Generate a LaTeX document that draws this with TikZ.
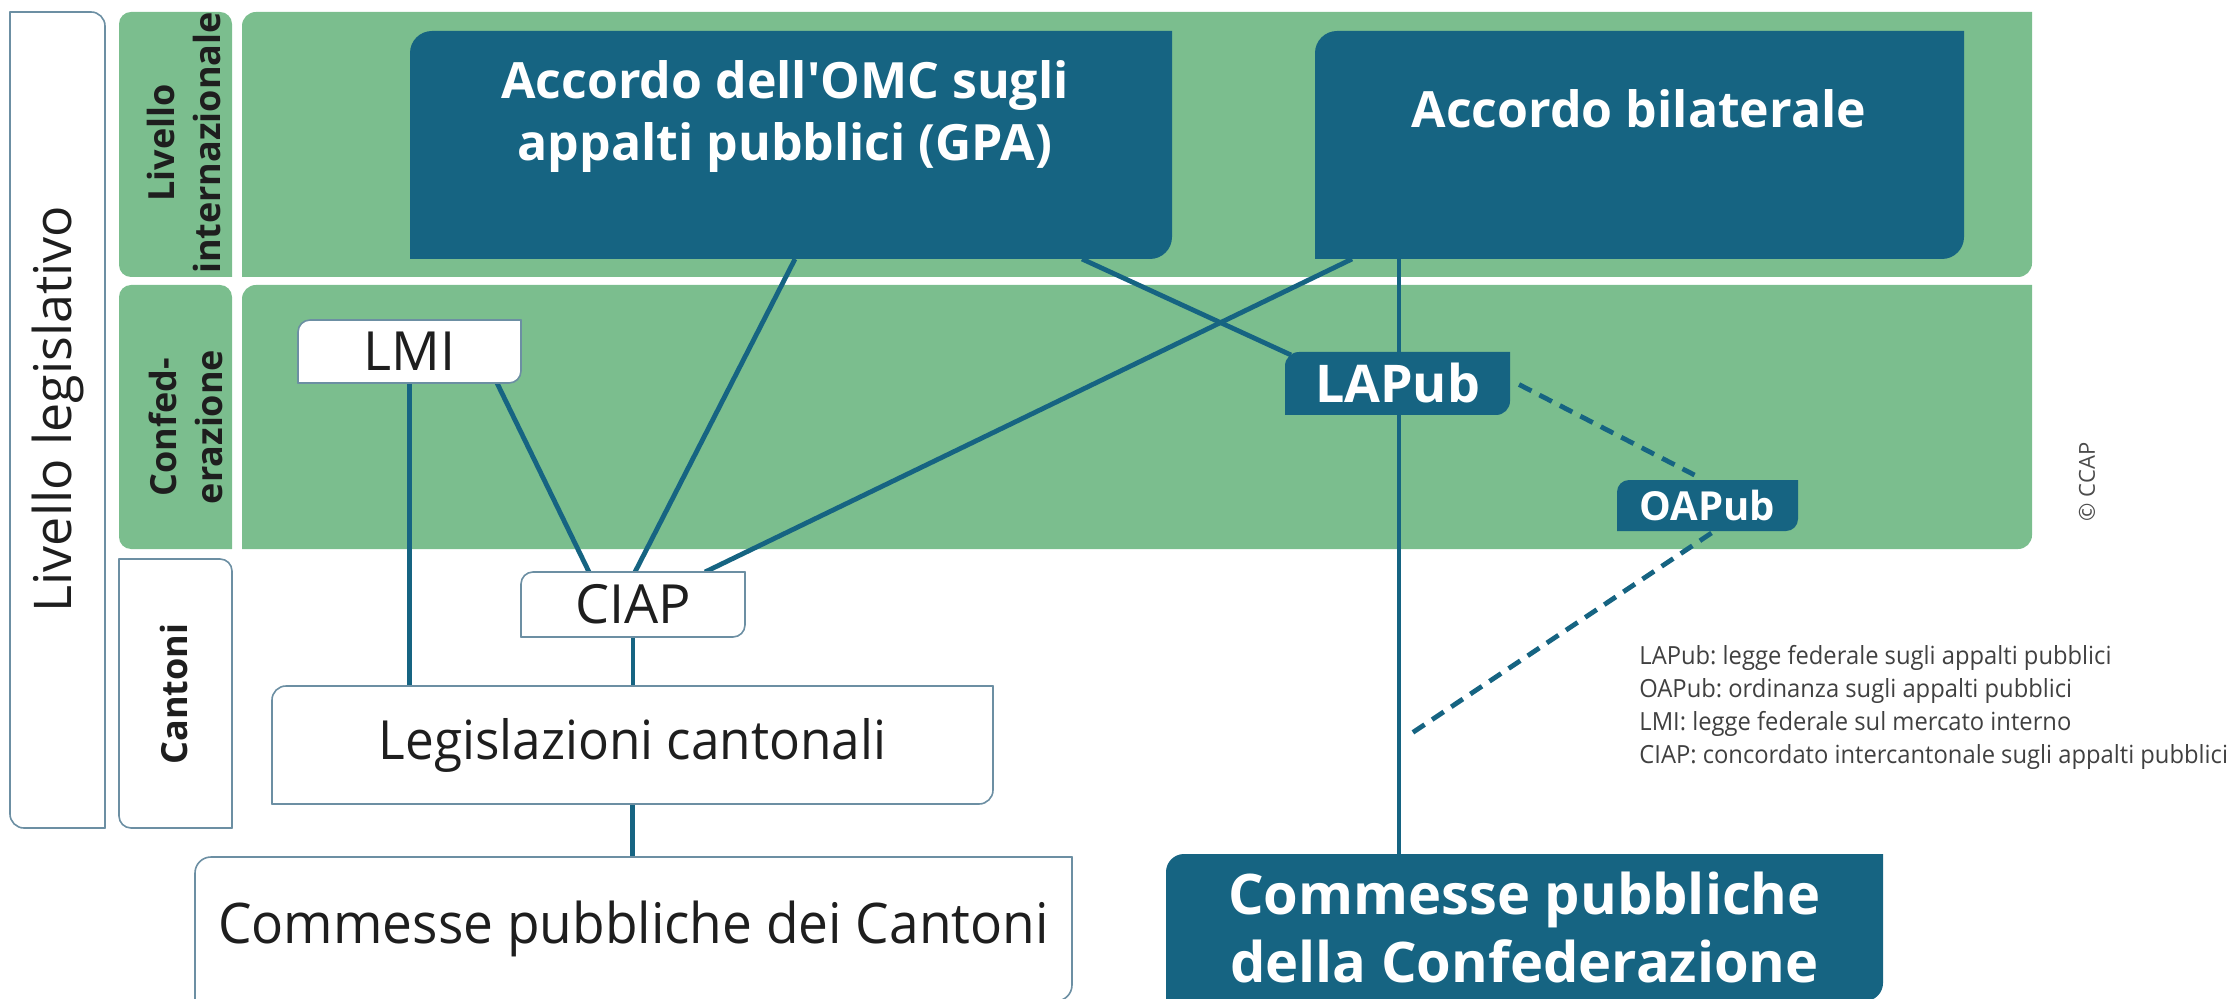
\documentclass[tikz,border=0pt]{standalone}
\usepackage{fontspec}
\setmainfont{Open Sans}
\newfontfamily\plainfont{Open Sans}
\newfontfamily\condfont{Open Sans}[FakeStretch=0.95]
\newfontfamily\legfont{Open Sans}[FakeStretch=0.95]
\frenchspacing
\usetikzlibrary{calc}
\definecolor{pgreen}{HTML}{7BBE8E}
\definecolor{dteal}{HTML}{166482}
\definecolor{bline}{HTML}{6C8FA3}
\definecolor{txtdark}{HTML}{1E1E1E}
\pgfdeclarelayer{bg}
\pgfdeclarelayer{lines}
\pgfdeclarelayer{boxes}
\pgfsetlayers{bg,lines,boxes,main}
% #1 node, #2 tl, #3 tr, #4 br, #5 bl radii, #6 style
\newcommand\rshape[6]{%
  \path[#6] ([yshift=-#2]#1.north west) arc[start angle=180,end angle=90,radius=#2]
    -- ([xshift=-#3]#1.north east) arc[start angle=90,end angle=0,radius=#3]
    -- ([yshift=#4]#1.south east) arc[start angle=0,end angle=-90,radius=#4]
    -- ([xshift=#5]#1.south west) arc[start angle=270,end angle=180,radius=#5]
    -- cycle;}
\tikzset{
  area/.style={draw=none,fill=none,inner sep=0pt,outer sep=0pt},
  darkfill/.style={fill=dteal},
  whitefill/.style={fill=white,draw=bline,line width=0.8pt},
  greenfill/.style={fill=pgreen},
  bigtxt/.style={inner sep=0pt,text=white,align=center,font=\plainfont\bfseries\fontsize{25pt}{31pt}\selectfont},
  conftxt/.style={text=white,align=center,font=\bfseries\fontsize{28pt}{34pt}\selectfont},
  labtxt/.style={text=txtdark,align=center,inner sep=0pt,font=\bfseries\fontsize{18pt}{23pt}\selectfont},
  conn/.style={draw=dteal,line width=2.4pt},
  dconn/.style={conn,dash pattern=on 7pt off 4.5pt},
}
\begin{document}
\begin{tikzpicture}[x=0.5pt,y=-0.5pt]
\useasboundingbox (0,0) rectangle (2230,999);
% ---------- areas ----------
\node[area,minimum width=47.5pt,minimum height=408pt] (outer) at (57.5,420) {};
\node[area,minimum width=56.5pt,minimum height=132.5pt] (cell1) at (175.5,144.5) {};
\node[area,minimum width=56.5pt,minimum height=132pt] (cell2) at (175.5,417) {};
\node[area,minimum width=56.5pt,minimum height=134.5pt] (cell3) at (175.5,693.5) {};
\node[area,minimum width=895pt,minimum height=132.5pt] (panel1) at (1137,144.5) {};
\node[area,minimum width=895pt,minimum height=132pt] (panel2) at (1137,417) {};
\begin{pgfonlayer}{bg}
  \rshape{outer}{0.01pt}{7pt}{0.01pt}{7pt}{whitefill}
  \rshape{cell1}{6pt}{6pt}{0.01pt}{6pt}{greenfill}
  \rshape{cell2}{6pt}{6pt}{0.01pt}{6pt}{greenfill}
  \rshape{cell3}{0.01pt}{6pt}{0.01pt}{6pt}{whitefill}
  \rshape{panel1}{7pt}{0.01pt}{7pt}{0.01pt}{greenfill}
  \rshape{panel2}{7pt}{0.01pt}{7pt}{0.01pt}{greenfill}
\end{pgfonlayer}
% ---------- side labels ----------
\node[rotate=90,inner sep=0pt,text=txtdark,font=\fontsize{26pt}{30pt}\selectfont] (lleg) at (58,409) {Livello legislativo};
\node[labtxt,rotate=90] (lint) at (184,143) {Livello\\internazionale};
\node[labtxt,rotate=90] (lconf) at (186,427) {Confed-\\erazione};
\node[labtxt,rotate=90] (lcant) at (174,694) {Cantoni};
% ---------- boxes ----------
\node[area,minimum width=381pt,minimum height=114pt] (gpa) at (791,145) {};
\node[bigtxt,anchor=north] (gpatxt) at (785,60) {Accordo dell'OMC sugli\\appalti pubblici (GPA)};
\node[area,minimum width=324.5pt,minimum height=114pt] (bil) at (1639.5,145) {};
\node[bigtxt,anchor=north] (biltxt) at (1639,89) {Accordo bilaterale};
\node[area,minimum width=111.5pt,minimum height=31.5pt,text=txtdark,font=\fontsize{27pt}{30pt}\selectfont] (lmi) at (409.5,351.5) {LMI};
\node[area,minimum width=112.5pt,minimum height=31.5pt,text=white,font=\bfseries\fontsize{26pt}{30pt}\selectfont] (lapub) at (1397.5,383.5) {LAPub};
\node[area,minimum width=90.5pt,minimum height=25.5pt,text=white,font=\bfseries\fontsize{20pt}{24pt}\selectfont] (oapub) at (1707.5,505.5) {OAPub};
\node[area,minimum width=112pt,minimum height=32.5pt,text=txtdark,font=\fontsize{27pt}{30pt}\selectfont] (ciap) at (633,604.5) {CIAP};
\node[area,minimum width=360.5pt,minimum height=59pt,text=txtdark,font=\condfont\fontsize{27pt}{30pt}\selectfont] (legis) at (632.5,745) {Legislazioni cantonali};
\node[area,minimum width=438.5pt,minimum height=72pt,text=txtdark,font=\condfont\fontsize{28pt}{30pt}\selectfont] (comcant) at (633.5,929) {Commesse pubbliche dei Cantoni};
\node[area,conftxt,minimum width=358.5pt,minimum height=73.5pt] (comconf) at (1524.5,927.5) {Commesse pubbliche\\della Confederazione};
\begin{pgfonlayer}{boxes}
  \rshape{gpa}{11pt}{0.01pt}{11pt}{0.01pt}{darkfill}
  \rshape{bil}{11pt}{0.01pt}{11pt}{0.01pt}{darkfill}
  \rshape{lmi}{6pt}{0.01pt}{6pt}{0.01pt}{whitefill}
  \rshape{lapub}{7pt}{0.01pt}{7pt}{0.01pt}{darkfill}
  \rshape{oapub}{6pt}{0.01pt}{6pt}{0.01pt}{darkfill}
  \rshape{ciap}{6pt}{0.01pt}{6pt}{0.01pt}{whitefill}
  \rshape{legis}{7pt}{0.01pt}{7pt}{0.01pt}{whitefill}
  \rshape{comcant}{8pt}{0.01pt}{8pt}{0.01pt}{whitefill}
  \rshape{comconf}{9pt}{0.01pt}{9pt}{0.01pt}{darkfill}
\end{pgfonlayer}
% ---------- connectors ----------
\coordinate (tick) at (1406,737);
\begin{pgfonlayer}{lines}
  \draw[conn] (lmi.south) -- (lmi.south |- legis.north);
  \draw[conn] ([xshift=-12pt]lmi.south east) -- ([xshift=-22pt]ciap.north);
  \draw[conn] ([xshift=2pt]gpa.south) -- ([xshift=1pt]ciap.north);
  \draw[conn] ([xshift=18.5pt]bil.south west) -- ([xshift=36pt]ciap.north);
  \draw[conn] ([xshift=-45pt]gpa.south east) -- ([xshift=3pt,yshift=-1.5pt]lapub.north west);
  \draw[conn] ([xshift=42pt]bil.south west) -- ([xshift=42pt]bil.south west |- comconf.north);
  \draw[conn] (ciap.south) -- (ciap.south |- legis.north);
  \draw[conn] (legis.south) -- (legis.south |- comcant.north);
  \draw[dconn] ([xshift=4.5pt,yshift=-0.5pt]lapub.east) -- ([xshift=-6.5pt,yshift=2.5pt]oapub.north);
  \draw[dconn] ([xshift=2pt,yshift=-1pt]oapub.south) -- (tick);
\end{pgfonlayer}
% ---------- legend and credit ----------
\node[anchor=north west,inner sep=0pt,align=left,text=txtdark!85,font=\legfont\fontsize{12.5pt}{16.5pt}\selectfont] (legend) at (1639,645)
  {LAPub: legge federale sugli appalti pubblici\\
   OAPub: ordinanza sugli appalti pubblici\\
   LMI: legge federale sul mercato interno\\
   CIAP: concordato intercantonale sugli appalti pubblici};
\node[rotate=90,inner sep=0pt,text=txtdark!80,font=\fontsize{11pt}{13pt}\selectfont] (ccap) at (2087,482) {© CCAP};
\end{tikzpicture}
\end{document}
